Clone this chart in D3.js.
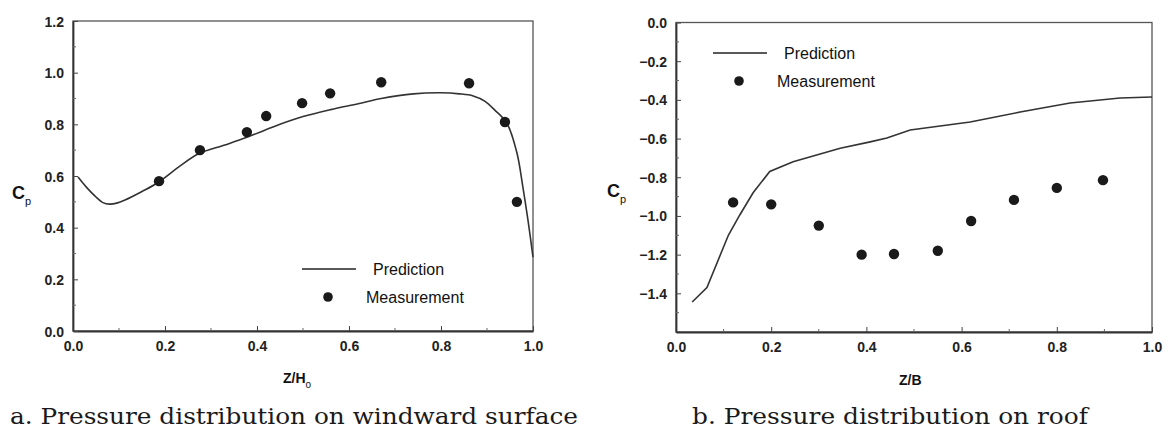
<!DOCTYPE html>
<html>
<head>
<meta charset="utf-8">
<script src="https://cdn.jsdelivr.net/npm/d3@7"></script>
<style>
  body { margin: 0; background: #fff; }
  svg { display: block; }
  .tick-label { font-family: "Liberation Sans", Arial, sans-serif; font-weight: bold; font-size: 14px; fill: #222; }
  .legend { font-family: "Liberation Sans", Arial, sans-serif; font-size: 16px; fill: #111; }
  .caption { font-family: "DejaVu Serif", "Liberation Serif", serif; font-size: 22px; fill: #1a1a1a; }
  .axis-title { font-family: "Liberation Sans", Arial, sans-serif; font-weight: bold; fill: #111; }
</style>
</head>
<body>
<svg id="chart" width="1171" height="430"></svg>
<script>
// panel a: windward surface
var windXTicks = [0.0, 0.2, 0.4, 0.6, 0.8, 1.0],
    windYTicks = [0.0, 0.2, 0.4, 0.6, 0.8, 1.0, 1.2];
var windPrediction = [
    [0.011, 0.596], [0.03, 0.555], [0.048, 0.522], [0.065, 0.497], [0.08, 0.491],
    [0.095, 0.495], [0.113, 0.507], [0.15, 0.54], [0.185, 0.575], [0.23, 0.635],
    [0.272, 0.685], [0.33, 0.72], [0.378, 0.75], [0.45, 0.80], [0.50, 0.83],
    [0.56, 0.857], [0.62, 0.88], [0.67, 0.90], [0.74, 0.918], [0.80, 0.922],
    [0.84, 0.918], [0.87, 0.91], [0.895, 0.89], [0.917, 0.855], [0.943, 0.805],
    [0.965, 0.69], [0.978, 0.557], [0.989, 0.43], [1.0, 0.286]
];
var windMeasurement = [
    [0.187, 0.58], [0.276, 0.70], [0.378, 0.77], [0.42, 0.832], [0.498, 0.882],
    [0.559, 0.92], [0.67, 0.963], [0.861, 0.959], [0.939, 0.809], [0.965, 0.50]
];

// panel b: roof
var roofXTicks = [0.0, 0.2, 0.4, 0.6, 0.8, 1.0],
    roofYTicks = [0.0, -0.2, -0.4, -0.6, -0.8, -1.0, -1.2, -1.4];
var roofPrediction = [
    [0.034, -1.445], [0.065, -1.37], [0.11, -1.10], [0.134, -0.995], [0.162, -0.88],
    [0.197, -0.77], [0.246, -0.72], [0.345, -0.65], [0.408, -0.617], [0.443, -0.597],
    [0.492, -0.556], [0.618, -0.514], [0.723, -0.463], [0.828, -0.416], [0.933, -0.39],
    [1.0, -0.385]
];
var roofMeasurement = [
    [0.12, -0.93], [0.20, -0.94], [0.30, -1.05], [0.39, -1.20], [0.458, -1.197],
    [0.55, -1.18], [0.62, -1.026], [0.71, -0.917], [0.80, -0.855], [0.897, -0.815]
];

var svg = d3.select("#chart");

function drawPanel(p) {
    var x = d3.scaleLinear().domain(p.xDomain).range([p.left, p.right]),
        y = d3.scaleLinear().domain(p.yDomain).range([p.bottom, p.top]),
        g = svg.append("g");

    // frame
    g.append("rect")
        .attr("x", p.left).attr("y", p.top)
        .attr("width", p.right - p.left).attr("height", p.bottom - p.top)
        .attr("fill", "none").attr("stroke", "#555").attr("stroke-width", 1.3);

    // axes, ticks pointing inward
    var xAxis = d3.axisBottom(x).tickValues(p.xTicks).tickSizeInner(-5).tickSizeOuter(0)
            .tickFormat(d3.format(".1f")),
        yAxis = d3.axisLeft(y).tickValues(p.yTicks).tickSizeInner(-5).tickSizeOuter(0)
            .tickFormat(d3.format(".1f"));

    var gx = g.append("g").attr("transform", "translate(0," + p.bottom + ")").call(xAxis);
    var gy = g.append("g").attr("transform", "translate(" + p.left + ",0)").call(yAxis);
    [gx, gy].forEach(function (a) {
        a.select(".domain").attr("stroke", "#333").attr("stroke-width", 1.8);
        a.selectAll(".tick line").attr("stroke", "#444").attr("stroke-width", 1);
        a.selectAll(".tick text").attr("class", "tick-label").attr("fill", null);
    });
    gx.selectAll(".tick text").attr("dy", "1.2em");
    gy.selectAll(".tick text").attr("x", -9).attr("dy", "0.36em");

    // minor ticks every 0.1
    var xMinor = d3.range(p.xDomain[0] + 0.1, p.xDomain[1], 0.2),
        yMinor = d3.range(p.yDomain[0] + 0.1, p.yDomain[1], 0.2);
    g.selectAll(".xminor").data(xMinor).enter().append("line")
        .attr("x1", function (d) { return x(d); }).attr("x2", function (d) { return x(d); })
        .attr("y1", p.bottom).attr("y2", p.bottom - 3)
        .attr("stroke", "#666").attr("stroke-width", 1);
    g.selectAll(".yminor").data(yMinor).enter().append("line")
        .attr("y1", function (d) { return y(d); }).attr("y2", function (d) { return y(d); })
        .attr("x1", p.left).attr("x2", p.left + 3)
        .attr("stroke", "#666").attr("stroke-width", 1);

    // prediction curve
    var line = d3.line()
        .x(function (d) { return x(d[0]); })
        .y(function (d) { return y(d[1]); })
        .curve(p.curve);
    g.append("path")
        .datum(p.prediction)
        .attr("d", line)
        .attr("fill", "none").attr("stroke", "#333").attr("stroke-width", 1.6);

    // measurement dots
    g.selectAll(".dot").data(p.measurement).enter().append("circle")
        .attr("cx", function (d) { return x(d[0]); })
        .attr("cy", function (d) { return y(d[1]); })
        .attr("r", 5.2)
        .attr("fill", "#1a1a1a");

    // legend
    var L = p.legend;
    g.append("line")
        .attr("x1", L.x).attr("x2", L.x + 54).attr("y1", L.y).attr("y2", L.y)
        .attr("stroke", "#222").attr("stroke-width", 1.3);
    g.append("text").attr("class", "legend").attr("x", L.x + 71).attr("y", L.y + 6).text("Prediction");
    g.append("circle").attr("cx", L.x + 26).attr("cy", L.y + 28).attr("r", 4.8).attr("fill", "#1a1a1a");
    g.append("text").attr("class", "legend").attr("x", L.x + 64).attr("y", L.y + 34).text("Measurement");

    // y title: C with subscript p
    var yt = g.append("text").attr("class", "axis-title")
        .attr("x", p.yTitle[0]).attr("y", p.yTitle[1]).style("font-size", "18px");
    yt.append("tspan").text("C");
    yt.append("tspan").attr("dy", 6).style("font-size", "11px").style("font-weight", "normal").text("p");

    // x title
    var xt = g.append("text").attr("class", "axis-title")
        .attr("x", p.xTitle[0]).attr("y", p.xTitle[1]).style("font-size", "14px");
    xt.append("tspan").text(p.xTitleMain);
    if (p.xTitleSub) {
        xt.append("tspan").attr("dy", 5).style("font-size", "10px").style("font-weight", "normal").text(p.xTitleSub);
    }

    // caption
    g.append("text").attr("class", "caption")
        .attr("x", p.caption[0]).attr("y", p.caption[1])
        .attr("textLength", p.caption[2]).attr("lengthAdjust", "spacingAndGlyphs")
        .text(p.captionText);
}

drawPanel({
    left: 73, right: 533, top: 21, bottom: 331,
    xDomain: [0, 1], yDomain: [0, 1.2],
    xTicks: windXTicks, yTicks: windYTicks,
    prediction: windPrediction, measurement: windMeasurement,
    curve: d3.curveCatmullRom,
    legend: { x: 302, y: 269 },
    yTitle: [12, 199],
    xTitle: [283, 383], xTitleMain: "Z/H", xTitleSub: "o",
    caption: [10, 424, 568], captionText: "a. Pressure distribution on windward surface"
});

drawPanel({
    left: 676, right: 1152, top: 22.5, bottom: 332,
    xDomain: [0, 1], yDomain: [-1.6, 0],
    xTicks: roofXTicks, yTicks: roofYTicks,
    prediction: roofPrediction, measurement: roofMeasurement,
    curve: d3.curveLinear,
    legend: { x: 713, y: 53 },
    yTitle: [607, 197],
    xTitle: [899, 385], xTitleMain: "Z/B", xTitleSub: null,
    caption: [692, 424, 396], captionText: "b. Pressure distribution on roof"
});
</script>
</body>
</html>
